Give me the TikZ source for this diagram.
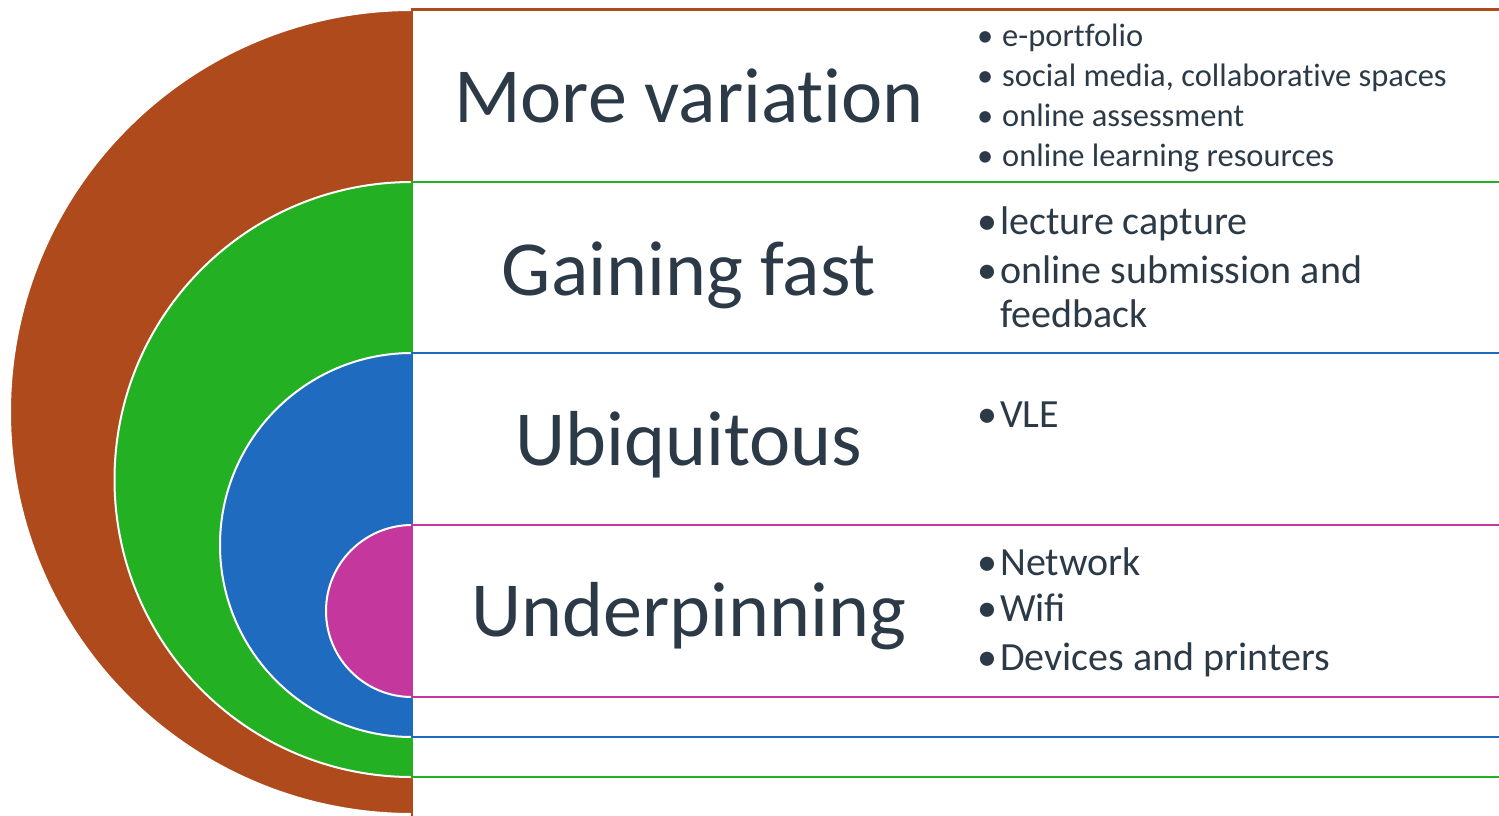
\documentclass[tikz,border=0pt]{standalone}
\usepackage{fontspec}
\setmainfont{Carlito}[Ligatures=NoCommon]
\definecolor{cbrown}{HTML}{AE4A1B}
\definecolor{cgreen}{HTML}{23B022}
\definecolor{cblue}{HTML}{1F6BBF}
\definecolor{cmag}{HTML}{C4389E}
\definecolor{txt}{HTML}{2C3A47}
\newcommand{\smbul}{\makebox[26pt][l]{\hspace{1pt}•}}
\newcommand{\lgbul}{\makebox[23pt][l]{•}}
\begin{document}
\begin{tikzpicture}[x=1pt,y=-1pt,
  disc/.style={draw=white,line width=2pt},
  band/.style={line width=2.5pt},
  title/.style={anchor=base,inner sep=0pt,text=txt,font=\fontsize{78}{78}\selectfont},
  sbul/.style={anchor=base west,inner sep=0pt,text=txt,font=\fontsize{32.5}{32.5}\selectfont},
  lbul/.style={anchor=base west,inner sep=0pt,text=txt,font=\fontsize{40}{40}\selectfont}]
\useasboundingbox (0,0) rectangle (1499,815);
% brown
\fill[cbrown,disc] (412,10) arc[start angle=90,end angle=270,radius=402pt] -- cycle;
\draw[cbrown,band] (1510,830) |- (412,9.5) -- (412,830);
% green
\fill[cgreen,disc] (412,182) arc[start angle=90,end angle=270,radius=297.5pt] -- cycle;
\draw[cgreen,band] (1510,182) -- (412,182) -- (412,777) -- (1510,777);
% blue
\fill[cblue,disc] (412,353) arc[start angle=90,end angle=270,radius=192pt] -- cycle;
\draw[cblue,band] (1510,353) -- (412,353) -- (412,737) -- (1510,737);
% magenta
\fill[cmag,disc] (412,525) arc[start angle=90,end angle=270,radius=86pt] -- cycle;
\draw[cmag,band] (1510,525) -- (412,525) -- (412,697) -- (1510,697);
% titles
\node[title] (t1) at (689,122) {More variation};
\node[title] (t2) at (689,295) {Gaining fast};
\node[title] (t3) at (689,465) {Ubiquitous};
\node[title] (t4) at (689,636) {Underpinning};
% lists
\node[sbul] (a1) at (976,46) {\smbul e-portfolio};
\node[sbul] (a2) at (976,86) {\smbul social media, collaborative spaces};
\node[sbul] (a3) at (976,126) {\smbul online assessment};
\node[sbul] (a4) at (976,166) {\smbul online learning resources};
\node[lbul] (b1) at (977,234) {\lgbul lecture capture};
\node[lbul] (b2) at (977,283) {\lgbul online submission and};
\node[lbul] (b3) at (1000,327) {feedback};
\node[lbul] (c1) at (977,427) {\lgbul VLE};
\node[lbul] (d1) at (977,575) {\lgbul Network};
\node[lbul] (d2) at (977,621) {\lgbul\addfontfeatures{Ligatures=Common}Wifi};
\node[lbul] (d3) at (977,670) {\lgbul Devices and printers};
\end{tikzpicture}
\end{document}
